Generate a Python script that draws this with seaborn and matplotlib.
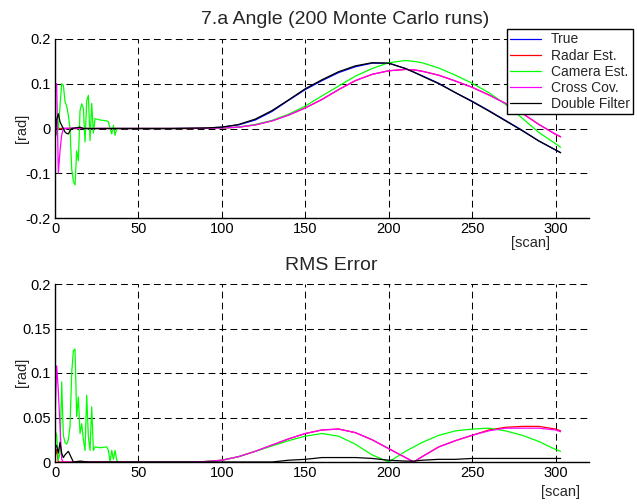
import numpy as np
import pandas as pd
import matplotlib
matplotlib.use("Agg")
import matplotlib.pyplot as plt
import seaborn as sns

# ---------------- data ----------------
series_names = ["True", "Radar Est.", "Camera Est.", "Cross Cov.", "Double Filter"]
series_colors = ["#0000ff", "#ff0000", "#00ff00", "#ff00ff", "#000000"]

scan_s = [40, 50, 60, 70, 80, 90, 100, 110, 120, 130, 140, 150, 160, 170, 180, 190,
          200, 210, 215, 220, 230, 240, 250, 260, 270, 280, 290, 300, 303]

# --- angle estimates (top panel) ---
true_s = [0, 0, 0, 0, 0.0005, 0.001, 0.003, 0.008, 0.019, 0.038, 0.063, 0.087, 0.107, 0.125,
          0.138, 0.146, 0.146, 0.134, 0.126, 0.118, 0.101, 0.080, 0.061, 0.040, 0.018, -0.004,
          -0.028, -0.048, -0.054]
radar_s = [0, 0, 0, 0, 0, 0.0005, 0.001, 0.003, 0.008, 0.017, 0.030, 0.046, 0.065, 0.087,
           0.107, 0.121, 0.129, 0.132, 0.131, 0.128, 0.119, 0.106, 0.092, 0.075, 0.056, 0.034,
           0.009, -0.013, -0.019]
camera_s = [0, 0, 0, 0, 0, 0.0005, 0.001, 0.003, 0.009, 0.018, 0.032, 0.050, 0.073, 0.095,
            0.117, 0.134, 0.147, 0.152, 0.150, 0.147, 0.135, 0.119, 0.101, 0.080, 0.054,
            0.023, -0.009, -0.034, -0.042]
cross_s = [0, 0, 0, 0, 0, 0.0005, 0.001, 0.003, 0.008, 0.017, 0.030, 0.046, 0.065, 0.087,
           0.107, 0.121, 0.129, 0.132, 0.131, 0.128, 0.119, 0.106, 0.092, 0.075, 0.056, 0.034,
           0.009, -0.013, -0.018]
double_s = [0, 0, 0, 0, 0.0005, 0.001, 0.003, 0.009, 0.021, 0.040, 0.064, 0.089, 0.109, 0.127,
            0.140, 0.147, 0.146, 0.134, 0.126, 0.117, 0.100, 0.080, 0.060, 0.039, 0.017,
            -0.005, -0.028, -0.048, -0.054]

true_e_scan = [0, 30]
true_e = [0, 0]
radar_e_scan = [0, 1, 2, 5, 10, 20, 30]
radar_e = [0.015, 0.005, 0, 0, 0, 0, 0]
camera_e_scan = [0, 1, 2, 3, 4, 5, 6, 7, 8, 9, 10, 11, 12, 13, 14, 15, 16, 17, 18, 19, 20,
                 21, 22, 23, 24, 27, 31, 32, 33, 34, 35, 36, 37, 38]
camera_e = [-0.02, -0.01, 0.0, 0.05, 0.1, 0.097, 0.06, 0.05, 0.03, 0.0, -0.09, -0.118,
            -0.126, -0.05, -0.072, 0.04, 0.055, 0.045, -0.03, 0.062, 0.074, -0.027, 0.056,
            -0.01, 0.022, 0.019, 0.017, 0.015, 0.0, -0.012, 0.007, -0.015, 0.0, 0.0]
cross_e_scan = [0, 1, 2, 3, 4, 5, 10, 20, 30]
cross_e = [0.1, 0.1, -0.1, -0.05, -0.015, 0, 0.001, 0, 0]
double_e_scan = [0, 1, 2, 3, 4, 5, 6, 7, 8, 9, 10, 15, 17, 20, 30]
double_e = [-0.03, 0.02, 0.033, 0.015, 0.007, 0.0, -0.008, -0.011, -0.012, -0.005, 0.0,
            0.003, 0.0, 0.0, 0.0]

# --- RMS error (bottom panel) ---
rms_radar_s = [0, 0, 0, 0, 0, 0.0005, 0.002, 0.006, 0.012, 0.019, 0.026, 0.032, 0.036, 0.037,
               0.033, 0.025, 0.015, 0.005, 0.0, 0.006, 0.017, 0.024, 0.030, 0.036, 0.039,
               0.040, 0.040, 0.037, 0.035]
rms_camera_s = [0, 0, 0, 0, 0, 0.0005, 0.002, 0.006, 0.012, 0.018, 0.024, 0.029, 0.032,
                0.029, 0.020, 0.008, 0.0, 0.012, 0.017, 0.022, 0.030, 0.035, 0.037, 0.038,
                0.035, 0.030, 0.023, 0.014, 0.012]
rms_cross_s = [0, 0, 0, 0, 0, 0.0005, 0.002, 0.006, 0.012, 0.019, 0.026, 0.032, 0.036, 0.037,
               0.033, 0.025, 0.015, 0.005, 0.0, 0.006, 0.017, 0.024, 0.030, 0.035, 0.038,
               0.038, 0.038, 0.036, 0.034]
rms_double_s = [0, 0, 0, 0, 0, 0, 0, 0, 0, 0, 0.002, 0.003, 0.005, 0.005, 0.005, 0.004, 0.002,
                0.001, 0.001, 0.002, 0.003, 0.003, 0.004, 0.004, 0.004, 0.004, 0.004, 0.004,
                0.004]

rms_radar_e_scan = [0, 1, 2, 30]
rms_radar_e = [0.006, 0.014, 0.0, 0.0]
rms_camera_e_scan = camera_e_scan
rms_camera_e = [0.036, 0.03, 0.002, 0.01, 0.09, 0.03, 0.022, 0.02, 0.025, 0.04, 0.1, 0.125,
                0.127, 0.051, 0.073, 0.032, 0.043, 0.025, 0.013, 0.075, 0.028, 0.013, 0.062,
                0.013, 0.017, 0.016, 0.017, 0.013, 0.0, 0.013, 0.003, 0.013, 0.002, 0.0]
rms_cross_e_scan = [0, 1, 2, 3, 4, 5, 30]
rms_cross_e = [0.05, 0.108, 0.08, 0.04, 0.003, 0.0, 0.0]
rms_double_e_scan = [0, 1, 2, 3, 4, 5, 6, 7, 8, 9, 10, 11, 15, 20, 30]
rms_double_e = [0.02, 0.018, 0.01, 0.022, 0.01, 0.005, 0.008, 0.01, 0.012, 0.008, 0.004,
                0.0, 0.001, 0.0, 0.0]

top_title = "7.a Angle (200 Monte Carlo runs)"
bottom_title = "RMS Error"


def build(parts):
    rows = []
    for name, (xe, ye, ys) in parts.items():
        for x, y in zip(list(xe) + scan_s, list(ye) + ys):
            rows.append((name, x, y))
    return pd.DataFrame(rows, columns=["series", "scan", "value"])


df_top = build({
    "True": (true_e_scan, true_e, true_s),
    "Radar Est.": (radar_e_scan, radar_e, radar_s),
    "Camera Est.": (camera_e_scan, camera_e, camera_s),
    "Cross Cov.": (cross_e_scan, cross_e, cross_s),
    "Double Filter": (double_e_scan, double_e, double_s),
})
df_bot = build({
    "Radar Est.": (rms_radar_e_scan, rms_radar_e, rms_radar_s),
    "Camera Est.": (rms_camera_e_scan, rms_camera_e, rms_camera_s),
    "Cross Cov.": (rms_cross_e_scan, rms_cross_e, rms_cross_s),
    "Double Filter": (rms_double_e_scan, rms_double_e, rms_double_s),
})

# ---------------- plot ----------------
sns.set_style("white")
plt.rcParams["font.family"] = ["Liberation Sans", "DejaVu Sans"]
palette = dict(zip(series_names, series_colors))

fig = plt.figure(figsize=(6.37, 5.04), dpi=100)
W, H = 637, 504
ax1 = fig.add_axes([55 / W, 1 - 218 / H, 534 / W, 179 / H])
ax2 = fig.add_axes([55 / W, 1 - 462 / H, 534 / W, 178 / H])

sns.lineplot(data=df_top, x="scan", y="value", hue="series", hue_order=series_names,
             palette=palette, estimator=None, sort=False, lw=0.9, legend=False, ax=ax1)
sns.lineplot(data=df_bot, x="scan", y="value", hue="series", hue_order=series_names[1:],
             palette=palette, estimator=None, sort=False, lw=0.9, legend=False, ax=ax2)

grid_style = dict(color="black", linestyle=(0, (6.5, 4)), linewidth=0.75)
for ax, ylim, yt, ytl in [
    (ax1, (-0.2, 0.2), [-0.2, -0.1, 0, 0.1, 0.2], ["-0.2", "-0.1", "0", "0.1", "0.2"]),
    (ax2, (0, 0.2), [0, 0.05, 0.1, 0.15, 0.2], ["0", "0.05", "0.1", "0.15", "0.2"]),
]:
    ax.set_xlim(0, 320)
    ax.set_ylim(*ylim)
    ax.set_xticks([0, 50, 100, 150, 200, 250, 300])
    ax.set_xticklabels(["0", "50", "100", "150", "200", "250", "300"])
    ax.set_yticks(yt)
    ax.set_yticklabels(ytl)
    ax.grid(True, **grid_style)
    ax.set_axisbelow(True)
    for s in ["top", "right"]:
        ax.spines[s].set_visible(False)
    for s in ["left", "bottom"]:
        ax.spines[s].set_color("black")
        ax.spines[s].set_linewidth(1.0)
    ax.tick_params(direction="in", length=3, width=0.8, labelsize=10.5, colors="black",
                   pad=3)
    ax.set_xlabel("")
    ax.set_ylabel("")
    ax.set_facecolor("white")

fig.text(22 / W, 1 - 128 / H, "[rad]", rotation=90, ha="center", va="center", fontsize=10.5)
fig.text(22 / W, 1 - 372 / H, "[rad]", rotation=90, ha="center", va="center", fontsize=10.5)
fig.text(531 / W, 1 - 243 / H, "[scan]", ha="center", va="center", fontsize=10.5)
fig.text(560 / W, 1 - 492 / H, "[scan]", ha="center", va="center", fontsize=10.5)
fig.text(345 / W, 1 - 20 / H, top_title, ha="center", va="center", fontsize=14)
fig.text(331 / W, 1 - 266 / H, bottom_title, ha="center", va="center", fontsize=14)

handles = ax1.get_lines()[:5]
leg = fig.legend(handles, series_names, loc="upper left",
                 bbox_to_anchor=(507 / W, 1 - 29 / H), fontsize=10,
                 frameon=True, fancybox=False, framealpha=1, edgecolor="black",
                 borderpad=0.25, labelspacing=0.15, handlelength=2.2, handletextpad=0.7,
                 borderaxespad=0)
leg.get_frame().set_linewidth(1.0)

fig.savefig("out.png", dpi=100, facecolor="white")
